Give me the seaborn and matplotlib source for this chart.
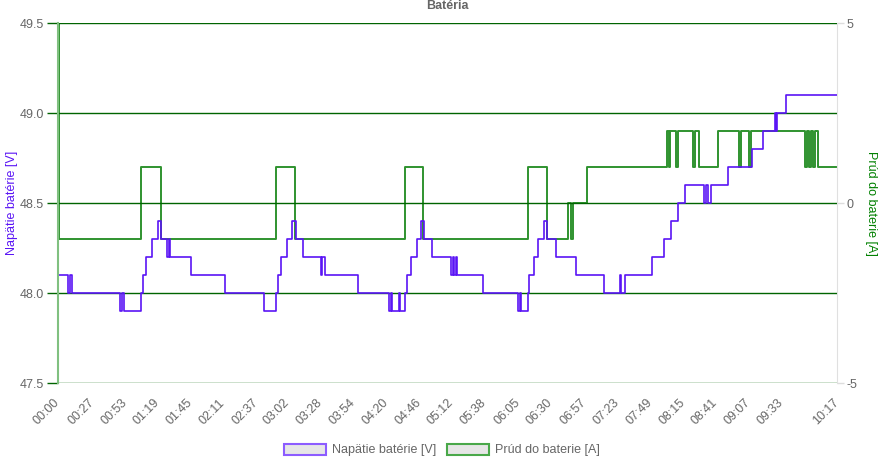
import numpy as np
import pandas as pd
import matplotlib
matplotlib.use("Agg")
import matplotlib.pyplot as plt
import matplotlib.ticker as mticker
import matplotlib.transforms as mtransforms
from matplotlib.patches import Patch
import seaborn as sns

# x axis labels (hh:mm)
tick_labels = ["00:00", "00:27", "00:53", "01:19", "01:45", "02:11", "02:37", "03:02",
               "03:28", "03:54", "04:20", "04:46", "05:12", "05:38", "06:05", "06:30",
               "06:57", "07:23", "07:49", "08:15", "08:41", "09:07", "09:33", "10:17"]

# battery voltage, value changes (minutes from start, V)
volt_t = [0, 7.7, 9.5, 10.9, 49.4, 51.0, 52.5, 65.7, 67.5, 69.5, 74.2, 79.0, 81.3, 86.0,
          87.7, 88.7, 105.0, 132.3, 163.0, 172.5, 174.3, 176.6, 181.4, 185.3, 188.3, 194.0,
          208.2, 209.3, 211.3, 237.5, 262.2, 263.5, 264.5, 270.0, 270.9, 274.5, 276.3, 279.6,
          284.0, 287.4, 290.0, 296.3, 311.2, 313.0, 313.8, 315.0, 316.0, 336.3, 364.6, 365.6,
          366.5, 372.4, 373.0, 377.0, 380.2, 384.6, 387.2, 394.4, 410.5, 432.5, 445.2, 446.0,
          448.8, 470.4, 480.3, 485.8, 491.0, 496.8, 512.0, 513.5, 515.0, 517.5, 530.6, 550.0,
          558.6, 567.8, 568.8, 569.8, 577.0, 617.0]
volt_v = [48.1, 48.0, 48.1, 48.0, 47.9, 48.0, 47.9, 48.0, 48.1, 48.2, 48.3, 48.4, 48.3, 48.2,
          48.3, 48.2, 48.1, 48.0, 47.9, 48.0, 48.1, 48.2, 48.3, 48.4, 48.3, 48.2,
          48.1, 48.2, 48.1, 48.0, 47.9, 48.0, 47.9, 48.0, 47.9, 48.0, 48.1, 48.2,
          48.3, 48.4, 48.3, 48.2, 48.1, 48.2, 48.1, 48.2, 48.1, 48.0, 47.9, 48.0,
          47.9, 48.0, 48.1, 48.2, 48.3, 48.4, 48.3, 48.2, 48.1, 48.0, 48.1, 48.0,
          48.1, 48.2, 48.3, 48.4, 48.5, 48.6, 48.5, 48.6, 48.5, 48.6, 48.7, 48.8,
          48.9, 49.0, 48.9, 49.0, 49.1, 49.1]

# battery current, value changes (minutes from start, A)
curr_t = [0, 0.8, 65.5, 81.2, 172.4, 187.4, 274.8, 289.3, 372.5, 387.2, 404.2, 406.0,
          407.6, 418.7, 482.0, 483.6, 484.7, 489.7, 491.0, 502.8, 504.3, 508.0, 523.0,
          539.5, 541.0, 547.2, 548.6, 591.6, 593.2, 594.5, 596.4, 597.7, 599.5, 602.2, 617.0]
curr_a = [5, -1, 1, -1, 1, -1, 1, -1, 1, -1, 0, -1,
          0, 1, 2, 1, 2, 1, 2, 1, 2, 1, 2,
          1, 2, 1, 2, 1, 2, 1, 2, 1, 2, 1, 1]

sns.set_style("white")
plt.rcParams["font.family"] = ["Liberation Sans", "DejaVu Sans"]
plt.rcParams["axes.unicode_minus"] = False

VOLT_COLOR = "#5a14f5"
CURR_COLOR = "#2f932f"
GRID = "#006400"
TEXT = "#666666"

fig = plt.figure(figsize=(8.86, 4.65), dpi=100)
ax = fig.add_axes([58 / 886, 1 - 383 / 465, 779 / 886, 360 / 465])
ax2 = ax.twinx()
ax.set_zorder(ax2.get_zorder() + 1)
ax.patch.set_visible(False)

volt = pd.DataFrame({"t": volt_t, "v": volt_v})
curr = pd.DataFrame({"t": curr_t, "a": curr_a})

sns.lineplot(data=curr, x="t", y="a", ax=ax2, color=CURR_COLOR, lw=1.4,
             drawstyle="steps-post", estimator=None, sort=False, legend=False)
sns.lineplot(data=volt, x="t", y="v", ax=ax, color=VOLT_COLOR, lw=1.2,
             drawstyle="steps-post", estimator=None, sort=False, legend=False)

tick_pos = [int(s[:2]) * 60 + int(s[3:]) for s in tick_labels]
ax.set_xlim(0, 617)
ax.set_xticks(tick_pos)
ax.set_xticklabels(tick_labels, rotation=45, ha="right", va="center", rotation_mode="anchor")
shift = mtransforms.ScaledTranslation(3 / 100, 0, fig.dpi_scale_trans)
for lbl in ax.get_xticklabels():
    lbl.set_transform(lbl.get_transform() + shift)
ax.set_xlabel("")

ax.set_ylim(47.5, 49.5)
ax.set_yticks(np.arange(47.5, 49.51, 0.5))
ax.yaxis.set_major_formatter(mticker.FormatStrFormatter("%.1f"))
ax.yaxis.grid(True, color=GRID, lw=1)
ax.xaxis.grid(False)
ax.set_axisbelow(True)

ax2.set_ylim(-5, 5)
ax2.set_yticks([-5, 0, 5])
ax2.grid(False)

ax.tick_params(axis="y", color=GRID, length=8, width=1, labelcolor=TEXT, labelsize=9, pad=2)
ax.tick_params(axis="x", length=0, pad=13, labelcolor=TEXT, labelsize=9)
ax2.tick_params(axis="y", color="#dddddd", length=5, width=1, labelcolor=TEXT, labelsize=9, pad=2)

for s in ["top", "bottom", "right"]:
    ax.spines[s].set_visible(False)
ax.spines["left"].set_color("#80c080")
ax.spines["left"].set_linewidth(1.5)
for s in ["top", "bottom", "left"]:
    ax2.spines[s].set_visible(False)
ax2.spines["right"].set_color("#e0e0e0")

ax.set_ylabel("Napätie batérie [V]", color=VOLT_COLOR, fontsize=9)
ax.yaxis.set_label_coords(-0.0513, 0.5)
ax2.set_ylabel("Prúd do baterie [A]", color="#008000", fontsize=9, rotation=270, va="bottom")
ax2.yaxis.set_label_coords(1.036, 0.5)

fig.text(447.5 / 886, 1 - 6 / 465, "Batéria", ha="center", va="center",
         fontweight="bold", color=TEXT, fontsize=9)

handles = [Patch(facecolor="#e6e6e6", edgecolor="#8c5cff", lw=1.5, label="Napätie batérie [V]"),
           Patch(facecolor="#e6e6e6", edgecolor="#4aa84a", lw=1.5, label="Prúd do baterie [A]")]
fig.legend(handles=handles, loc="center", bbox_to_anchor=(442 / 886, 1 - 450 / 465), ncol=2,
           frameon=False, handlelength=3.3, handleheight=1.0, fontsize=9, labelcolor=TEXT,
           columnspacing=0.9, handletextpad=0.5)

fig.savefig("out.png", dpi=100)
